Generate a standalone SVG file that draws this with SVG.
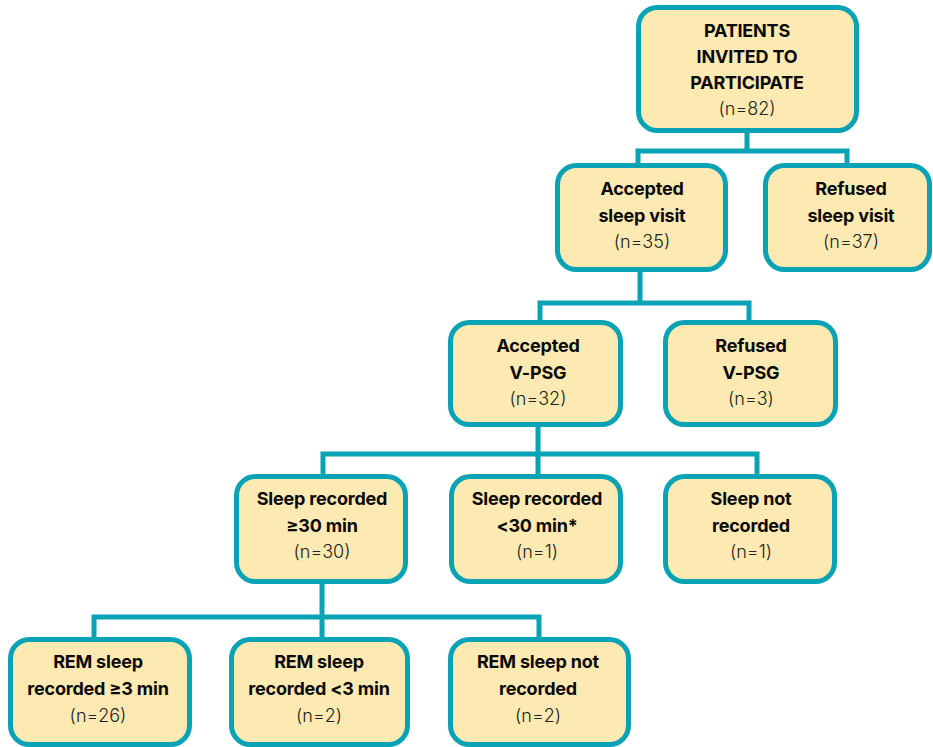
<svg xmlns="http://www.w3.org/2000/svg" width="933" height="747" viewBox="0 0 933 747">
<style>
.bg{fill:#ffffff}
.box{fill:#FDE9B2;stroke:#0AA2B5;stroke-width:5}
.con{fill:none;stroke:#0AA2B5;stroke-width:5;stroke-linejoin:miter;stroke-linecap:butt}
text{font-family:Inter,"Liberation Sans",Arial,sans-serif;font-size:18px;text-anchor:middle;fill:#0a0a0a}
.b{font-weight:700;letter-spacing:-0.2px}
.n{font-weight:300;fill:#222222}
</style>
<rect class="bg" x="0" y="0" width="933" height="747"/>
<g id="connectors">
<path class="con" d="M747,133 V151 M638,165 V151 H847 V165"/>
<path class="con" d="M640,272 V303 M540,322 V303 H749 V322"/>
<path class="con" d="M538,427 V454 M323,476 V454 H757 V476 M538,454 V476"/>
<path class="con" d="M322,584 V617 M94,639 V617 H539 V639 M322,617 V639"/>
</g>
<g id="n1">
<rect class="box" x="638.5" y="7.5" width="218" height="123" rx="19"/>
<text class="b" x="747" y="37">PATIENTS</text>
<text class="b" x="747" y="63">INVITED TO</text>
<text class="b" x="747" y="89">PARTICIPATE</text>
<text class="n" x="747" y="115">(n=82)</text>
</g>
<g id="n2a">
<rect class="box" x="557.5" y="165.5" width="168" height="104" rx="19"/>
<text class="b" x="642" y="195">Accepted</text>
<text class="b" x="642" y="221.5">sleep visit</text>
<text class="n" x="642" y="248">(n=35)</text>
</g>
<g id="n2b">
<rect class="box" x="765.5" y="165.5" width="164" height="104" rx="19"/>
<text class="b" x="851" y="195">Refused</text>
<text class="b" x="851" y="221.5">sleep visit</text>
<text class="n" x="851" y="248">(n=37)</text>
</g>
<g id="n3a">
<rect class="box" x="450.5" y="322.5" width="170" height="102" rx="19"/>
<text class="b" x="538" y="352">Accepted</text>
<text class="b" x="538" y="378.5">V-PSG</text>
<text class="n" x="538" y="405">(n=32)</text>
</g>
<g id="n3b">
<rect class="box" x="665.5" y="322.5" width="170" height="102" rx="19"/>
<text class="b" x="751" y="352">Refused</text>
<text class="b" x="751" y="378.5">V-PSG</text>
<text class="n" x="751" y="405">(n=3)</text>
</g>
<g id="n4a">
<rect class="box" x="236.5" y="476.5" width="169" height="105" rx="19"/>
<text class="b" x="322" y="505">Sleep recorded</text>
<text class="b" x="322" y="531.5">≥30 min</text>
<text class="n" x="322" y="558">(n=30)</text>
</g>
<g id="n4b">
<rect class="box" x="451.5" y="476.5" width="169" height="105" rx="19"/>
<text class="b" x="537" y="505">Sleep recorded</text>
<text class="b" x="537" y="531.5">&lt;30 min*</text>
<text class="n" x="537" y="558">(n=1)</text>
</g>
<g id="n4c">
<rect class="box" x="665.5" y="476.5" width="169" height="105" rx="19"/>
<text class="b" x="751" y="505">Sleep not</text>
<text class="b" x="751" y="531.5">recorded</text>
<text class="n" x="751" y="558">(n=1)</text>
</g>
<g id="n5a">
<rect class="box" x="10.5" y="639.5" width="179" height="105" rx="19"/>
<text class="b" x="98" y="668">REM sleep</text>
<text class="b" x="98" y="695">recorded ≥3 min</text>
<text class="n" x="98" y="722">(n=26)</text>
</g>
<g id="n5b">
<rect class="box" x="231.5" y="639.5" width="176" height="105" rx="19"/>
<text class="b" x="319" y="668">REM sleep</text>
<text class="b" x="319" y="695">recorded &lt;3 min</text>
<text class="n" x="319" y="722">(n=2)</text>
</g>
<g id="n5c">
<rect class="box" x="450.5" y="639.5" width="178" height="105" rx="19"/>
<text class="b" x="538" y="668">REM sleep not</text>
<text class="b" x="538" y="695">recorded</text>
<text class="n" x="538" y="722">(n=2)</text>
</g>
</svg>
